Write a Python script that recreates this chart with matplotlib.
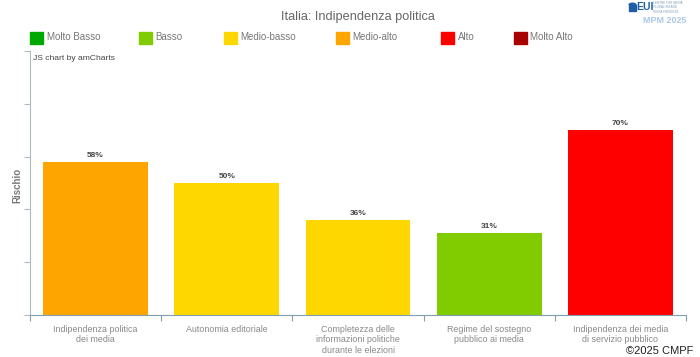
import matplotlib.pyplot as plt
from matplotlib.patches import Rectangle, Wedge

plt.rcParams['font.family'] = ['Liberation Sans', 'DejaVu Sans']

# data
categories = ["Indipendenza politica\ndei media", "Autonomia editoriale",
              "Completezza delle\ninformazioni politiche\ndurante le elezioni",
              "Regime del sostegno\npubblico ai media",
              "Indipendenza dei media\ndi servizio pubblico"]
values = [58, 50, 36, 31, 70]
bar_colors = ["#FFA500", "#FFD700", "#FFD700", "#80CC00", "#FF0000"]

legend_labels = ["Molto Basso", "Basso", "Medio-basso", "Medio-alto", "Alto", "Molto Alto"]
legend_colors = ["#00A800", "#80CC00", "#FFD700", "#FFA500", "#FF0000", "#A80000"]
legend_x = [30, 139, 224, 336, 441, 514]

fig = plt.figure(figsize=(7, 3.57), dpi=100)
ax = fig.add_axes([30/700, 1-315/357, 656/700, 264/357])

x = range(len(categories))
ax.bar(x, values, width=0.8, color=bar_colors)
for i, v in enumerate(values):
    ax.text(i, v + 1.2, f"{v}%", ha="center", va="bottom", fontsize=6,
            fontweight="bold", color="#444444")

ax.set_xlim(-0.5, len(categories) - 0.5)
ax.set_ylim(0, 100)
ax.set_yticks([0, 20, 40, 60, 80, 100])
ax.set_yticklabels([])
ax.set_xticks([i - 0.5 for i in range(len(categories) + 1)])
ax.set_xticklabels([])
ax.set_xticks(list(x), minor=True)
ax.set_xticklabels(categories, minor=True, fontsize=6.4, color="#888888", linespacing=1.25)
ax.tick_params(axis="x", which="minor", length=0, pad=7)
ax.tick_params(axis="x", which="major", length=4, color="#7f9fb0", direction="out")
ax.tick_params(axis="y", length=4, color="#b0b8c0", direction="out")
for s in ["top", "right"]:
    ax.spines[s].set_visible(False)
ax.spines["left"].set_color("#b0b8c0")
ax.spines["bottom"].set_color("#7f9fb0")

# y label
fig.text(17/700, 1-185/357, "Rischio", rotation=90, ha="center", va="center",
         fontsize=7, fontweight="bold", color="#777777")

# title
fig.text(358/700, 1-17/357, "Italia: Indipendenza politica", ha="center", va="center",
         fontsize=9.2, color="#666666")

# legend
for lx, lab, col in zip(legend_x, legend_labels, legend_colors):
    fig.patches.append(Rectangle((lx/700, 1-43.5/357), 12.5/700, 12/357,
                                 transform=fig.transFigure, color=col))
    fig.text((lx+16.5)/700, 1-37.5/357, lab, va="center", fontsize=7, color="#777777")

fig.text(33/700, 1-58/357, "JS chart by amCharts", va="center", fontsize=6.1, color="#444444")

# logo
fig.patches.append(Rectangle((629/700, 1-11/357), 7/700, 6/357, transform=fig.transFigure,
                             color="#1f5fa8"))
fig.patches.append(Wedge((632.5/700, 1-5/357), 3.5/700, 0, 180, transform=fig.transFigure,
                         color="#1f5fa8"))
fig.text(636/700, 1-7.5/357, "EUI", ha="left", va="center", fontsize=7.5, fontweight="bold",
         color="#1f5fa8")
fig.text(653/700, 1-7.5/357, "CENTRE FOR MEDIA\nPLURALISM AND\nMEDIA FREEDOM", ha="left",
         va="center", fontsize=2.2, color="#7f9fb8", linespacing=1.1)
fig.text(665/700, 1-20.5/357, "MPM 2025", ha="center", va="center", fontsize=6.5,
         fontweight="bold", color="#a8c8e8")

fig.text(693/700, 1-351/357, "©2025 CMPF", ha="right", va="center", fontsize=8, color="#222222")

plt.savefig("out.png", dpi=100)
